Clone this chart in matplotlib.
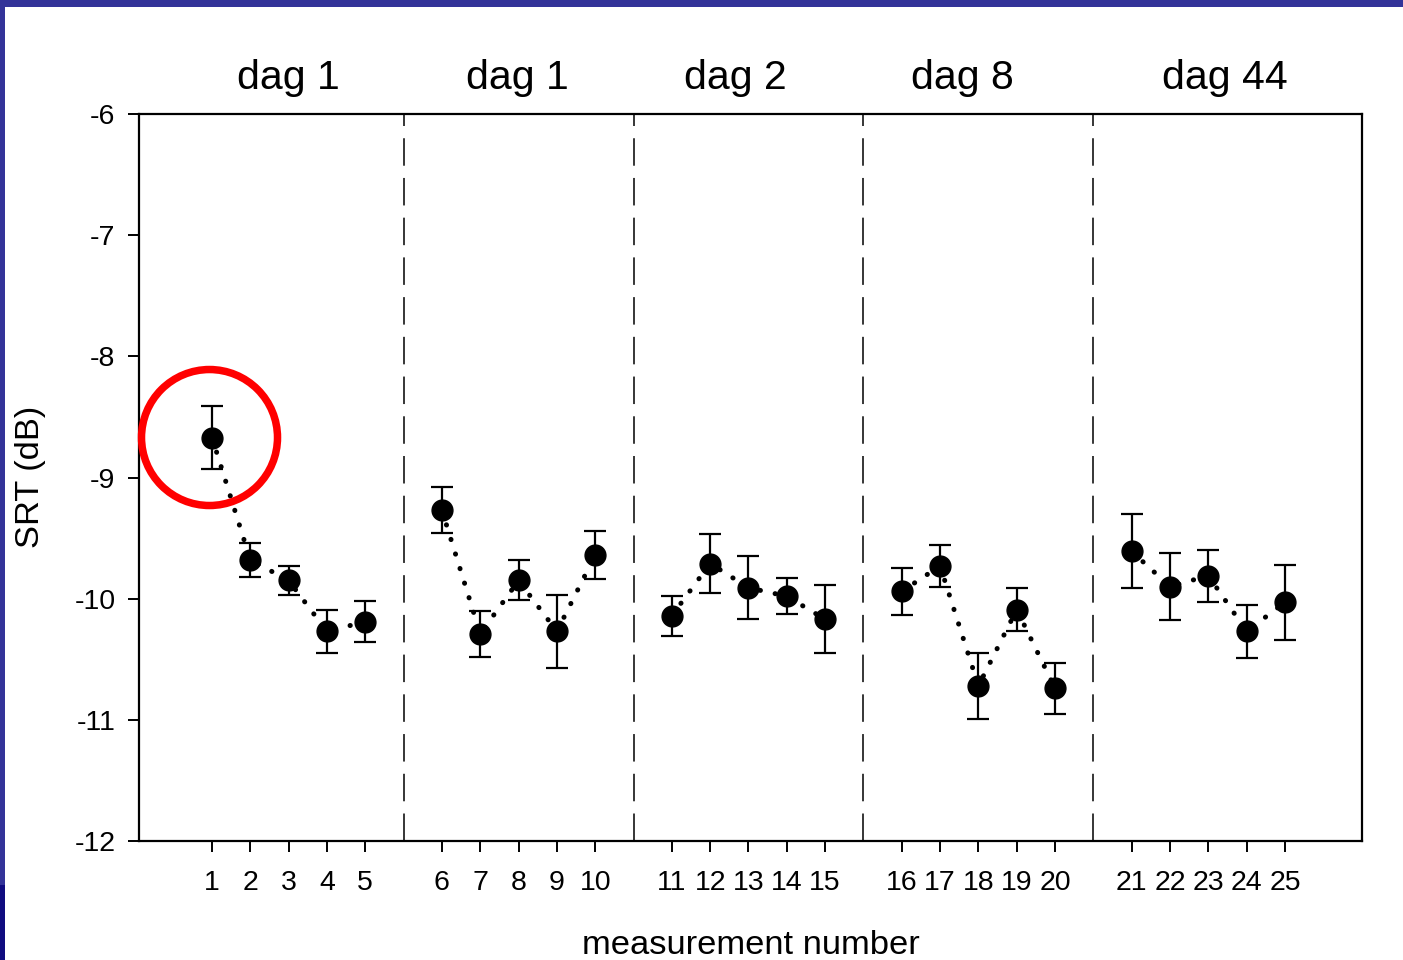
import matplotlib
matplotlib.use("Agg")
import matplotlib.pyplot as plt
from matplotlib.patches import Ellipse, Rectangle

plt.rcParams['font.family'] = ['Liberation Sans', 'DejaVu Sans']
plt.rcParams['axes.unicode_minus'] = False

# ---- data ----
group_titles = ["dag 1", "dag 1", "dag 2", "dag 8", "dag 44"]
measurements = list(range(1, 26))
srt_mean = [-8.67, -9.68, -9.85, -10.27, -10.19,
            -9.27, -10.29, -9.85, -10.27, -9.64,
            -10.14, -9.71, -9.91, -9.98, -10.17,
            -9.94, -9.73, -10.72, -10.09, -10.74,
            -9.61, -9.90, -9.81, -10.27, -10.03]
srt_err = [0.26, 0.14, 0.12, 0.18, 0.17,
           0.19, 0.19, 0.165, 0.30, 0.20,
           0.165, 0.24, 0.26, 0.15, 0.28,
           0.195, 0.17, 0.27, 0.18, 0.21,
           0.305, 0.28, 0.215, 0.22, 0.31]
y_ticks = [-12, -11, -10, -9, -8, -7, -6]
y_tick_labels = ["-12", "-11", "-10", "-9", "-8", "-7", "-6"]

# x positions: groups of 5 separated by a gap of one slot
per_group = 5
xpos = [(m - 1) // per_group * 6 + (m - 1) % per_group + 1 for m in measurements]

fig = plt.figure(figsize=(14.03, 9.6), dpi=100)
W, H = 1403, 960
ax = fig.add_axes([139 / W, 1 - 841 / H, (1362 - 139) / W, (841 - 114) / H])

# dotted connecting lines within each group
for g in range(len(group_titles)):
    sl = slice(g * per_group, (g + 1) * per_group)
    ax.plot(xpos[sl], srt_mean[sl], linestyle=(0, (0.05, 3.0)), lw=3.6,
            dash_capstyle='round', color='black', zorder=2)

ax.errorbar(xpos, srt_mean, yerr=srt_err, fmt='o', ms=15, color='black',
            ecolor='black', elinewidth=1.6, capsize=8, capthick=1.6, zorder=3)

# group separators
for g in range(1, len(group_titles)):
    ax.axvline(g * 6, color='black', lw=1.1, linestyle=(0, (18, 8)), zorder=1)

ax.set_xlim(-0.905, 31.01)
ax.set_ylim(-12, -6)
ax.set_yticks(y_ticks)
ax.set_yticklabels(y_tick_labels)
ax.set_xticks(xpos)
ax.set_xticklabels([str(m) for m in measurements])
ax.tick_params(direction='out', length=8, width=1.4, labelsize=20.5)
ax.tick_params(axis='y', pad=9)
ax.tick_params(axis='x', pad=13)
for s in ax.spines.values():
    s.set_linewidth(1.6)

# group titles
title_pos = [3.0, 8.96, 14.65, 20.57, 27.43]
for t, xp in zip(group_titles, title_pos):
    ax.text(xp, 1.0 + (114 - 78) / 727, t, transform=ax.get_xaxis_transform(),
            ha='center', va='center', fontsize=29.5)

# red highlight circle
ax.add_patch(Ellipse((0.935, -8.67), width=2 * 68 / 38.32, height=2 * 68 / 121.17,
                     facecolor='none', edgecolor='#ff0000', lw=5.4, clip_on=False,
                     zorder=4))

fig.text(750.5 / W, 1 - 945 / H, "measurement number", ha='center', va='center',
         fontsize=24.8)
fig.text(30 / W, 1 - 476.5 / H, "SRT (dB)", ha='center', va='center',
         rotation=90, fontsize=24.8)

# slide border
fig.patches.append(Rectangle((0, 1 - 7 / H), 1, 7 / H, transform=fig.transFigure,
                             facecolor='#333399', edgecolor='none'))
fig.patches.append(Rectangle((0, 1 - 885 / H), 5 / W, 885 / H, transform=fig.transFigure,
                             facecolor='#333399', edgecolor='none'))
fig.patches.append(Rectangle((0, 0), 5 / W, 1 - 885 / H, transform=fig.transFigure,
                             facecolor='#100c80', edgecolor='none'))

fig.savefig("out.png", dpi=100)
